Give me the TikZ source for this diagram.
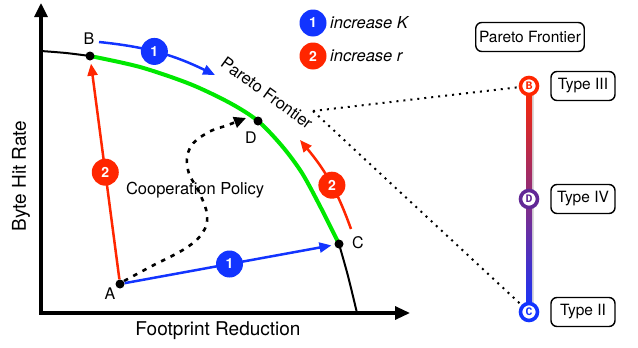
\documentclass[tikz,border=0pt]{standalone}
\usepackage{fontspec}
\setmainfont{TeX Gyre Heros}
\newfontfamily\circfont{Liberation Mono}
\usetikzlibrary{arrows.meta,positioning}
\definecolor{kblue}{RGB}{18,52,255}
\definecolor{rred}{RGB}{255,38,0}
\definecolor{pgreen}{RGB}{0,232,0}
\definecolor{dpurple}{RGB}{98,40,150}

\begin{document}
\begin{tikzpicture}[x=1pt, y=-1pt,
  axis/.style={line width=3.2pt, {Triangle[length=14pt,width=13pt]}-{Triangle[length=15pt,width=13pt]}},
  front/.style={line width=2pt},
  optimal/.style={line width=4pt, pgreen},
  dot/.style={circle, fill=black, inner sep=0pt, minimum size=9pt},
  ptlab/.style={font=\fontsize{16}{16}\selectfont},
  axlab/.style={font=\fontsize{19}{19}\selectfont},
  incK/.style={line width=2.5pt, kblue, -{Triangle[length=12pt,width=10pt]}},
  incR/.style={line width=2.5pt, rred, -{Triangle[length=12pt,width=10pt]}},
  numk/.style={circle, fill=kblue, text=white, inner sep=0pt, minimum size=27pt,
    font=\bfseries\fontsize{14}{14}\selectfont},
  numr/.style={numk, fill=rred},
  legend/.style={font=\itshape\fontsize{16.5}{16.5}\selectfont, anchor=west},
  policy/.style={line width=2.6pt, dash pattern=on 4.5pt off 6pt, -{Triangle[length=12pt,width=11pt]}},
  link/.style={line width=2pt, dash pattern=on 2pt off 5pt},
  tcirc/.style={circle, draw, fill=white, line width=3.6pt, minimum size=17pt, inner sep=0pt,
    font=\circfont\bfseries\fontsize{11.5}{11.5}\selectfont},
  tbox/.style={draw, rounded corners=6pt, line width=1.4pt, minimum width=64pt,
    minimum height=29pt, font=\fontsize{15.5}{15.5}\selectfont},
]
  \useasboundingbox (0,0) rectangle (638,348);

  % axes
  \coordinate (ytip) at (41,3);
  \coordinate (O) at (41,313);
  \coordinate (xtip) at (410,313);
  \draw[axis] (ytip) -- (O) -- (xtip);
  \node[axlab] (xl) at (218,331) {Footprint Reduction};
  \node[axlab, rotate=90] (yl) at (21,176) {Byte Hit Rate};

  % frontier
  \draw[front] plot[smooth] coordinates {(41,51) (66,53) (90,56)};
  \draw[optimal] plot[smooth] coordinates {(90,56) (140,67) (190,84) (230,103) (258,121)
    (282,146) (302,173) (321,208) (339,244)};
  \draw[front] plot[smooth] coordinates {(339,244) (348,276) (357,313)};
  \node[font=\fontsize{16.5}{16.5}\selectfont, rotate=-36] (pft) at (267,93) {Pareto Frontier};

  \node[dot] (B) at (90,56) {};
  \node[dot] (D) at (258,121) {};
  \node[dot] (C) at (339,244) {};
  \node[dot] (A) at (120,284) {};
  \node[ptlab] (lb) at (89,39) {B};
  \node[ptlab] (ld) at (251,138) {D};
  \node[ptlab] (lc) at (358,243) {C};
  \node[ptlab] (la) at (110,294) {A};

  \node[font=\fontsize{16.5}{16.5}\selectfont] (coop) at (195,190) {Cooperation Policy};
  \draw[policy] plot[smooth, tension=0.7] coordinates {(124,281) (150,267) (186,248) (203,232)
    (207,215) (200,194) (188,170) (190,148) (207,133) (228,125) (246,118)};

  % moves
  \coordinate (k1s) at (99,42);
  \coordinate (k1e) at (215,75);
  \draw[incK] (k1s) to[bend left=10] node[numk, pos=.46] (n1t) {1} (k1e);
  \draw[incK, shorten >=3pt] (A) -- node[numk, pos=.5] (n1b) {1} (C);
  \draw[incR, shorten >=3pt] (A) -- node[numr, pos=.49] (n2l) {2} (B);
  \coordinate (r2s) at (351,229);
  \coordinate (r2e) at (300,140);
  \draw[incR] (r2s) to[bend right=10] node[numr, pos=.46] (n2r) {2} (r2e);

  % legend
  \node[numk] (lk) at (313,23) {1};
  \node[legend, right=0pt of lk] (lkt) {increase K};
  \node[numr] (lr) at (313,56) {2};
  \node[legend, right=0pt of lr] (lrt) {increase r};

  % types
  \node[tbox] (pfb) at (530,37) {Pareto Frontier};
  \coordinate (bc) at (529,86);
  \coordinate (dc) at (529,199);
  \coordinate (cc) at (529,312);
  \fill[black!14] ([xshift=3pt]bc) rectangle ([xshift=5pt]cc);
  \shade[top color=rred, middle color=dpurple, bottom color=kblue]
    ([xshift=-3pt]bc) rectangle ([xshift=3pt]cc);
  \node[tcirc, draw=rred, text=rred] (bn) at (bc) {B};
  \node[tcirc, draw=dpurple, text=dpurple] (dn) at (dc) {D};
  \node[tcirc, draw=kblue, text=kblue] (cn) at (cc) {C};
  \node[tbox, right=11pt of bn] (t3) {Type III};
  \node[tbox, right=11pt of dn] (t4) {Type IV};
  \node[tbox, right=11pt of cn] (t2) {Type II};

  \coordinate (pf) at (313,111);
  \draw[link] (pf) -- (bn);
  \draw[link] (pf) -- (cn);
\end{tikzpicture}
\end{document}
